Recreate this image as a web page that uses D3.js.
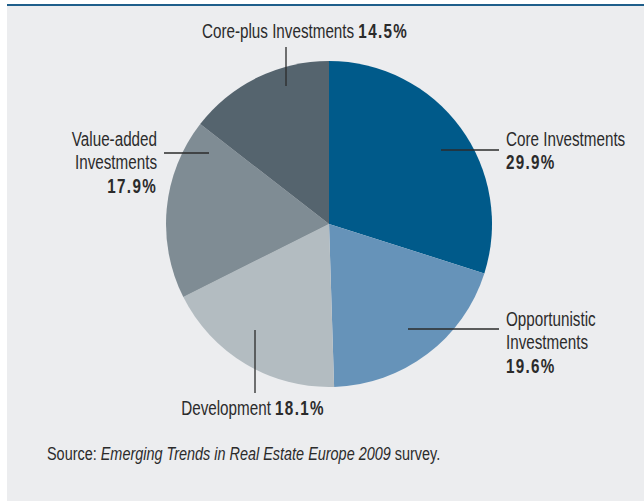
<!DOCTYPE html>
<html>
<head>
<meta charset="utf-8">
<title>Investment strategies pie</title>
<script src="https://d3js.org/d3.v7.min.js"></script>
<style>
  body { margin: 0; background: #fff; }
  text { font-family: "Liberation Sans", Arial, sans-serif; fill: #2b2b2b; }
  .pct { font-weight: bold; letter-spacing: 1.8px; }
</style>
</head>
<body>
<svg width="644" height="501"></svg>
<script>
// data
var categories = ["Core Investments", "Opportunistic Investments", "Development", "Value-added Investments", "Core-plus Investments"];
var shares = [29.9, 19.6, 18.1, 17.9, 14.5];
var colors = ["#005a8a", "#6693b9", "#b3bcc1", "#7f8c94", "#55646e"];

// label layout: text lines, anchor, text position, leader line
var labelLayout = [
  { lines: ["Core Investments"], anchor: "start", x: 506, y: 146, line: [[441, 150], [499, 150]] },
  { lines: ["Opportunistic", "Investments"], anchor: "start", x: 506, y: 326, line: [[408, 329], [499, 329]] },
  { lines: ["Development"], inline: true, anchor: "middle", x: 253, y: 415, line: [[255, 330], [255, 393]] },
  { lines: ["Value-added", "Investments"], anchor: "end", x: 157, y: 146, line: [[164, 153], [209, 153]] },
  { lines: ["Core-plus Investments"], inline: true, anchor: "middle", x: 305, y: 38, line: [[286, 47], [286, 86]] }
];

var svg = d3.select("svg");
var W = 644, H = 501;
var cx = 329, cy = 224, radius = 163;
var lineH = 23.5;
var squeeze = 0.725;   // condensed look

// panel
svg.append("rect").attr("x", 7).attr("y", 5).attr("width", W - 7).attr("height", H - 5).attr("fill", "#ecedef");
svg.append("rect").attr("x", 7).attr("y", 4).attr("width", W - 7).attr("height", 2).attr("fill", "#1f5f8b");

var pie = d3.pie().sort(null).value(function(d) { return d; });
var arc = d3.arc().innerRadius(0).outerRadius(radius);

var g = svg.append("g").attr("transform", "translate(" + cx + "," + cy + ")");
g.selectAll("path")
  .data(pie(shares))
  .enter().append("path")
  .attr("d", arc)
  .attr("fill", function(d, i) { return colors[i]; });

// leader lines
svg.selectAll(".leader")
  .data(labelLayout)
  .enter().append("line")
  .attr("class", "leader")
  .attr("x1", function(d) { return d.line[0][0]; })
  .attr("y1", function(d) { return d.line[0][1]; })
  .attr("x2", function(d) { return d.line[1][0]; })
  .attr("y2", function(d) { return d.line[1][1]; })
  .attr("stroke", "#2b2b2b")
  .attr("stroke-width", 1.3);

// labels
labelLayout.forEach(function(lay, i) {
  var t = svg.append("g")
    .attr("transform", "translate(" + lay.x + "," + lay.y + ") scale(" + squeeze + ",1)")
    .append("text")
    .attr("text-anchor", lay.anchor)
    .attr("font-size", 21);
  var pct = d3.format(".1f")(shares[i]) + "%";
  if (lay.inline) {
    t.append("tspan").text(lay.lines[0] + " ");
    t.append("tspan").attr("class", "pct").text(pct);
  } else {
    lay.lines.forEach(function(l, k) {
      t.append("tspan").attr("x", 0).attr("dy", k === 0 ? 0 : lineH).text(l);
    });
    t.append("tspan").attr("class", "pct").attr("x", 0).attr("dy", lineH).text(pct);
  }
});

// source note
var src = svg.append("g")
  .attr("transform", "translate(47,460) scale(0.76,1)")
  .append("text").attr("font-size", 19);
src.append("tspan").text("Source: ");
src.append("tspan").attr("font-style", "italic").text("Emerging Trends in Real Estate Europe 2009");
src.append("tspan").text(" survey.");
</script>
</body>
</html>
